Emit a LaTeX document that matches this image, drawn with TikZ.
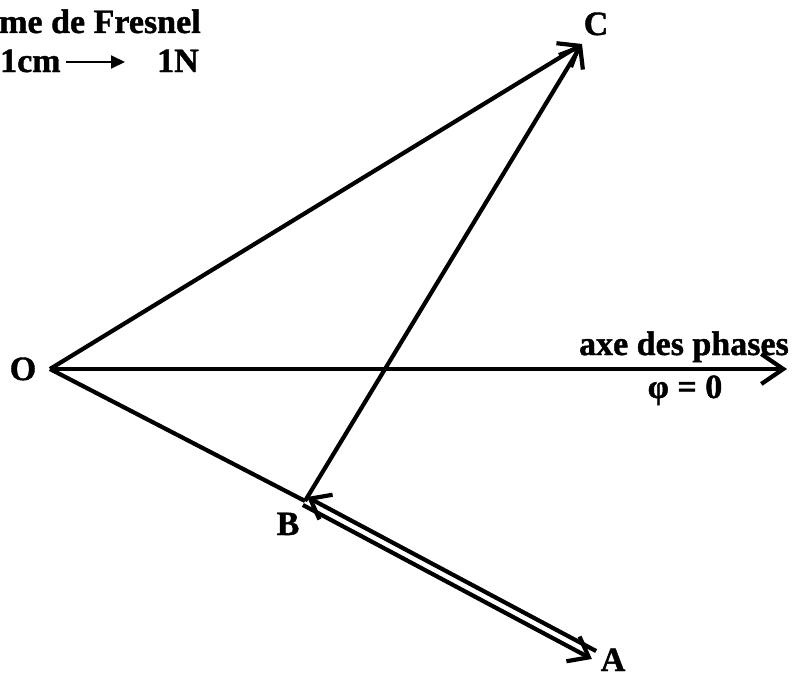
\documentclass[tikz,border=0pt]{standalone}
\usepackage{fontspec}
\setmainfont{Liberation Serif}[BoldFeatures={FakeBold=1.2}]
\usetikzlibrary{arrows.meta,calc}
\begin{document}
\begin{tikzpicture}[x=1pt,y=-1pt,
  lbl/.style={font=\fontsize{34}{40}\selectfont\bfseries, inner sep=0pt},
  seg/.style={line width=4.2pt},
  vec/.style={line width=4.2pt, -{Straight Barb[length=18pt,width=28pt]}},
  axisvec/.style={line width=4.2pt, -{Straight Barb[length=22pt,width=30pt]}},
  scalearrow/.style={line width=2pt, -{Triangle[length=14pt,width=13pt]}}]
\useasboundingbox (0,0) rectangle (794,677);
\coordinate (O) at (50,369);
\coordinate (B) at (305,501);
\coordinate (A) at (594,655);
\coordinate (C) at (582,44);
\coordinate (X) at (787,369);
\coordinate (Bu) at ($(B)!4.5pt!90:(A)$);
\coordinate (Au) at ($(A)!4.5pt!-90:(B)$);
\coordinate (Bd) at ($(B)!4.5pt!-90:(A)$);
\coordinate (Ad) at ($(A)!4.5pt!90:(B)$);
\draw[seg] (O) -- (B);
\draw[vec] (O) -- (C);
\draw[vec] (B) -- (C);
\draw[axisvec] (O) -- (X);
\draw[vec] (Au) -- (Bu);
\draw[vec] (Bd) -- (Ad);
\node[lbl, anchor=base] (Ol) at (23,380) {O};
\node[lbl, anchor=base] (Bl) at (288,535) {B};
\node[lbl, anchor=base] (Al) at (613,671) {A};
\node[lbl, anchor=base] (Cl) at (596,35) {C};
\node[lbl, anchor=base east] (axe) at (789,355) {axe des phases};
\node[lbl, anchor=base] (phi) at (685,398) {φ = 0};
\node[lbl, anchor=base west] (t1) at (-1,33) {me de Fresnel};
\node[lbl, anchor=base west] (t2) at (0,72) {1cm};
\node[lbl, anchor=base west] (t3) at (157,72) {1N};
\draw[scalearrow] ([xshift=5pt,yshift=10pt]t2.base east) -- ([xshift=-32pt,yshift=10pt]t3.base west);
\end{tikzpicture}
\end{document}
